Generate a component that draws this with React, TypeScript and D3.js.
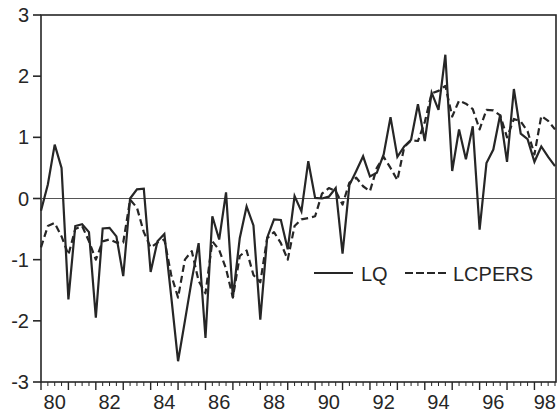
import React, { useRef, useEffect } from 'react';
import { select, scaleLinear, line, range } from 'd3';

// quarterly observations, 1980Q1 .. 1998Q4
const startYear = 1980;
const lq = [
  -0.2, 0.23, 0.88, 0.5, -1.65, -0.45, -0.42, -0.55,
  -1.95, -0.49, -0.48, -0.62, -1.27, 0.0, 0.15, 0.16,
  -1.2, -0.7, -0.58, -1.6, -2.66, -2.0, -1.33, -0.73,
  -2.28, -0.29, -0.67, 0.1, -1.62, -0.65, -0.13, -0.44,
  -1.98, -0.64, -0.34, -0.35, -0.83, 0.04, -0.21, 0.61,
  0.01, 0.0, 0.03, 0.17, -0.9, 0.22, 0.45, 0.69,
  0.36, 0.42, 0.72, 1.33, 0.68, 0.85, 0.96, 1.54,
  0.94, 1.73, 1.45, 2.35, 0.45, 1.13, 0.64, 1.18,
  -0.51, 0.58, 0.8, 1.37, 0.6, 1.79, 1.06, 0.97,
  0.6, 0.85, 0.68, 0.53,
];
const lcpers = [
  -0.8, -0.45, -0.4, -0.62, -0.92, -0.5, -0.45, -0.7,
  -1.0, -0.7, -0.67, -0.72, -0.72, -0.02, -0.15, -0.55,
  -0.8, -0.72, -0.67, -1.25, -1.62, -1.0, -0.86, -1.35,
  -1.55, -0.7, -0.84, -1.15, -1.62, -0.94, -0.85, -1.25,
  -1.37, -0.65, -0.55, -0.73, -1.0, -0.45, -0.34, -0.32,
  -0.29, 0.08, 0.17, 0.12, -0.1, 0.26, 0.34, 0.2,
  0.12, 0.5, 0.68, 0.5, 0.3, 0.84, 0.95, 0.94,
  1.25, 1.72, 1.76, 1.84, 1.34, 1.6, 1.55, 1.46,
  1.13, 1.45, 1.44, 1.36, 1.0, 1.3, 1.26, 1.1,
  0.72, 1.35, 1.27, 1.13,
];
const yTicks = [-3, -2, -1, 0, 1, 2, 3];
const xLabels = ['80', '82', '84', '86', '88', '90', '92', '94', '96', '98'];

const W = 557;
const H = 415;
const INK = '#262626';
const FONT = '"Liberation Sans", Arial, Helvetica, sans-serif';

export default function App() {
  const svgRef = useRef<SVGSVGElement>(null);

  useEffect(() => {
    const svg = select(svgRef.current);
    svg.selectAll('*').remove();

    const left = 41, right = 555, top = 15, bottom = 382;
    const n = lq.length;

    const x = scaleLinear().domain([0, n - 1]).range([left, right]);
    const y = scaleLinear().domain([-3, 3]).range([bottom, top]);

    // frame
    svg.append('rect')
      .attr('x', left).attr('y', top)
      .attr('width', right + 1 - left).attr('height', bottom - top)
      .attr('fill', 'none').attr('stroke', INK).attr('stroke-width', 1.6);

    // zero line
    svg.append('line')
      .attr('x1', left).attr('x2', right + 1)
      .attr('y1', y(0)).attr('y2', y(0))
      .attr('stroke', '#555').attr('stroke-width', 1.2);

    // y ticks + labels
    const yg = svg.append('g');
    yTicks.forEach(t => {
      yg.append('line')
        .attr('x1', left - 8).attr('x2', left)
        .attr('y1', y(t)).attr('y2', y(t))
        .attr('stroke', INK).attr('stroke-width', 1.6);
      yg.append('text')
        .attr('x', 29).attr('y', y(t) + 7)
        .attr('text-anchor', 'end')
        .attr('font-family', FONT).attr('font-size', 20)
        .attr('fill', INK)
        .text(t);
    });

    // x ticks: minor each quarter, major each year
    const xg = svg.append('g');
    range(0, n).forEach(i => {
      const major = i % 4 === 0;
      xg.append('line')
        .attr('x1', x(i)).attr('x2', x(i))
        .attr('y1', bottom).attr('y2', bottom + (major ? 8 : 4))
        .attr('stroke', INK).attr('stroke-width', major ? 1.4 : 1);
    });
    xLabels.forEach((lab, k) => {
      const last = k === xLabels.length - 1;
      // last label sits against the right edge of the page
      xg.append('text')
        .attr('x', last ? W - 1 : x(k * 8 + 2)).attr('y', 409)
        .attr('text-anchor', last ? 'end' : 'middle')
        .attr('font-family', FONT).attr('font-size', 20)
        .attr('fill', INK)
        .text(lab);
    });

    const gen = line<number>()
      .x((d, i) => x(i))
      .y(d => y(d));

    svg.append('path')
      .datum(lcpers)
      .attr('d', gen)
      .attr('fill', 'none').attr('stroke', INK).attr('stroke-width', 2.2)
      .attr('stroke-dasharray', '7,4')
      .attr('stroke-linejoin', 'round');

    svg.append('path')
      .datum(lq)
      .attr('d', gen)
      .attr('fill', 'none').attr('stroke', INK).attr('stroke-width', 2.2)
      .attr('stroke-linejoin', 'miter');

    // legend
    const lg = svg.append('g');
    lg.append('line')
      .attr('x1', 314).attr('x2', 353).attr('y1', 273).attr('y2', 273)
      .attr('stroke', INK).attr('stroke-width', 2.2);
    lg.append('text')
      .attr('x', 361).attr('y', 281)
      .attr('font-family', FONT).attr('font-size', 20).attr('fill', INK)
      .text('LQ');
    lg.append('line')
      .attr('x1', 405).attr('x2', 446).attr('y1', 273).attr('y2', 273)
      .attr('stroke', INK).attr('stroke-width', 2.2)
      .attr('stroke-dasharray', '8,3');
    lg.append('text')
      .attr('x', 453).attr('y', 281)
      .attr('font-family', FONT).attr('font-size', 20).attr('fill', INK)
      .text('LCPERS');
  }, []);

  return (
    <svg
      ref={svgRef}
      width={W}
      height={H}
      style={{ position: 'absolute', left: 0, top: 0, background: '#fff' }}
    />
  );
}
